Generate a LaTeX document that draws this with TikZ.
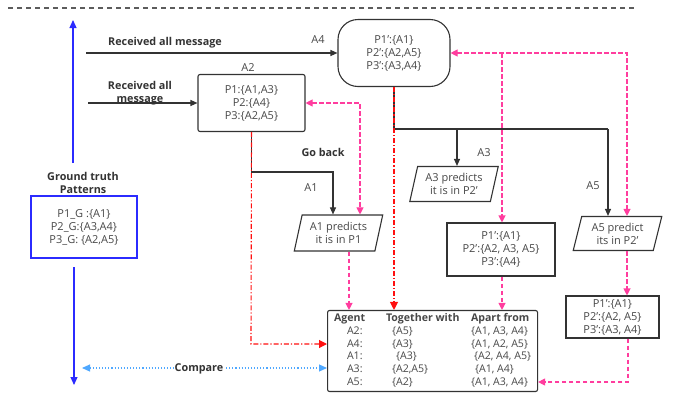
\documentclass[tikz,border=0pt]{standalone}
\usepackage{fontspec}
\setmainfont{Open Sans}
\usepackage{tikz}
\usetikzlibrary{arrows.meta,shapes.geometric}
\definecolor{FlowDark}{HTML}{333333}
\definecolor{FlowPink}{HTML}{FF3D9E}
\definecolor{FlowRed}{HTML}{FF1010}
\definecolor{FlowBlue}{HTML}{2B2BFF}
\definecolor{FlowSky}{HTML}{4FA8FF}
\tikzset{
  patbox/.style={
    draw=FlowDark,
    line width=1.1pt,
    align=center,
    inner sep=0pt,
    text=FlowDark!90,
    font=\fontsize{11}{13}\selectfont
  },
  predbox/.style={
    patbox,
    trapezium,
    trapezium left angle=74,
    trapezium right angle=106,
    trapezium stretches=true
  },
  steplabel/.style={text=FlowDark!90,font=\fontsize{11}{13}\selectfont},
  boldlabel/.style={text=FlowDark,align=center,font=\bfseries\fontsize{10.8}{13}\selectfont},
  darrow/.style={-{Triangle[length=7pt,width=6pt]},line width=1.1pt,draw=FlowDark},
  pinkarrow/.style={-{Triangle[length=7pt,width=7pt]},dash pattern=on 4.5pt off 2.5pt,line width=1.1pt,draw=FlowPink},
  redarrow/.style={-{Triangle[length=8pt,width=8pt]},dash pattern=on 5pt off 2pt on 1.2pt off 2pt,line width=1.1pt,draw=FlowRed},
  bluearrow/.style={-{Triangle[length=8pt,width=7pt]},line width=1.1pt,draw=FlowBlue}
}

\begin{document}
\begin{tikzpicture}[x=1pt,y=-1pt]
    \useasboundingbox (0,0) rectangle (675,394);
    \draw[FlowDark!80,line width=1.1pt,dash pattern=on 5pt off 4pt] (8,8) -- (636,8);

    % pattern boxes
    \node[patbox,rounded corners=20pt,minimum width=112pt,minimum height=67pt] (merged) at (394,53)
      {P1':\{A1\}\\P2':\{A2,A5\}\\P3':\{A3,A4\}};
    \node[patbox,rounded corners=2pt,minimum width=107pt,minimum height=57pt] (a2box) at (251.5,103)
      {P1:\{A1,A3\}\\P2:\{A4\}\\P3:\{A2,A5\}};
    \node[patbox,draw=FlowBlue,minimum width=106pt,minimum height=62pt] (gbox) at (84,227)
      {P1\_G :\{A1\}\\P2\_G:\{A3,A4\}\\P3\_G: \{A2,A5\}};
    \node[patbox,minimum width=108pt,minimum height=53pt] (midbox) at (501,249.5)
      {P1':\{A1\}\\P2':\{A2, A3, A5\}\\P3':\{A4\}};
    \node[patbox,minimum width=93pt,minimum height=42pt] (rbox) at (612.5,317)
      {P1':\{A1\}\\P2':\{A2, A5\}\\P3':\{A3, A4\}};

    % predictions
    \node[predbox,minimum width=89pt,minimum height=36pt] (a1pred) at (338.5,233) {A1 predicts\\it is in P1};
    \node[predbox,minimum width=89pt,minimum height=35pt] (a3pred) at (454,184) {A3 predicts\\it is in P2'};
    \node[predbox,minimum width=89pt,minimum height=34pt] (a5pred) at (617.5,233.5) {A5 predict\\its in P2'};

    % result table
    \node[patbox,rounded corners=2pt,minimum width=210pt,minimum height=81pt,inner xsep=5pt,anchor=west,
      font=\fontsize{10.6}{12.8}\selectfont] (table) at (327,351) {%
      \begin{tabular}{@{}p{52pt}@{}p{85pt}@{}l@{}}
        \textbf{Agent} & \textbf{Together with} & \textbf{Apart from}\\
        \hspace{13pt}A2: & \hspace{6pt}\{A5\} & \{A1, A3, A4\}\\
        \hspace{13pt}A4: & \hspace{6pt}\{A3\} & \{A1, A2, A5\}\\
        \hspace{13pt}A1: & \hspace{10pt}\{A3\} & \hspace{3pt}\{A2, A4, A5\}\\
        \hspace{13pt}A3: & \hspace{6pt}\{A2,A5\} & \hspace{4pt}\{A1, A4\}\\
        \hspace{13pt}A5: & \hspace{6pt}\{A2\} & \{A1, A3, A4\}
      \end{tabular}};

    % labels
    \node[boldlabel] (gtlabel) at (83,183) {Ground truth\\Patterns};
    \node[boldlabel] (rcvone) at (165,43) {Received all message};
    \node[boldlabel] (rcvtwo) at (140,93) {Received all\\message};
    \node[boldlabel] (goback) at (323,152) {Go back};
    \node[steplabel] (lbla4) at (318,40) {A4};
    \node[steplabel] (lbla2) at (248,68) {A2};
    \node[steplabel] (lbla1) at (311,188) {A1};
    \node[steplabel] (lbla3) at (484,153) {A3};
    \node[steplabel] (lbla5) at (593,186) {A5};

    % free ends
    \coordinate (rcvonestart) at (86,53);
    \coordinate (rcvtwostart) at (88,103);
    \coordinate (gotop) at (73,20);
    \coordinate (gostart) at (73,163);
    \coordinate (gbottom) at (74,385);
    \coordinate (gbstart) at (74,267);
    \coordinate (cmpleft) at (82,368);
    \coordinate (a1turn) at (333,172);
    \coordinate (a1pink) at (360,103);
    \coordinate (splitleft) at (394,129);
    \coordinate (splitmid) at (457,129);
    \coordinate (splitright) at (608,129);
    \coordinate (pinkright) at (627,53);
    \coordinate (pinkmid) at (502,53);
    \coordinate (redturn) at (251,344);
    \coordinate (rboxturn) at (628,382);

    % black flow
    \draw[darrow] (rcvonestart) -- (merged.west);
    \draw[darrow] (rcvtwostart) -- (a2box.west);
    \draw[darrow] (a2box.south) |- (a1turn) -- (a1turn |- a1pred.north);
    \draw[line width=1.1pt,draw=FlowDark] (merged.south) -- (splitleft) -- (splitright);
    \draw[darrow] (splitmid) -- (splitmid |- a3pred.north);
    \draw[darrow] (splitright) -- (splitright |- a5pred.north);

    % red checks
    \draw[redarrow] (a2box.south) -- (redturn) -- (redturn -| table.west);
    \draw[redarrow] (merged.south) -- (merged.south |- table.north);

    % pink feedback
    \draw[pinkarrow,{Triangle[length=7pt,width=7pt]}-{Triangle[length=7pt,width=7pt]}]
      (a2box.east) -| (a1pink |- a1pred.north);
    \draw[pinkarrow,{Triangle[length=7pt,width=7pt]}-{Triangle[length=7pt,width=7pt]}]
      (merged.east) -- (pinkright) -- (pinkright |- a5pred.north);
    \draw[pinkarrow] (pinkmid) -- (pinkmid |- midbox.north);
    \draw[pinkarrow] (a1pred.south -| 349,0) -- (349,0 |- table.north);
    \draw[pinkarrow] (midbox.south -| pinkmid) -- (pinkmid |- table.north);
    \draw[pinkarrow] (a5pred.south -| pinkright) -- (pinkright |- rbox.north);
    \draw[pinkarrow] (rbox.south -| rboxturn) -- (rboxturn) -- (rboxturn -| table.east);

    % ground truth side
    \draw[bluearrow] (gostart) -- (gotop);
    \draw[bluearrow] (gbstart) -- (gbottom);
    \draw[{Triangle[length=8pt,width=7pt]}-{Triangle[length=8pt,width=7pt]},draw=FlowSky,line width=1.1pt,dotted]
      (cmpleft) -- (cmpleft -| table.west);
    \node[boldlabel,fill=white,inner sep=1pt] (compare) at (199,369) {Compare};
\end{tikzpicture}
\end{document}
